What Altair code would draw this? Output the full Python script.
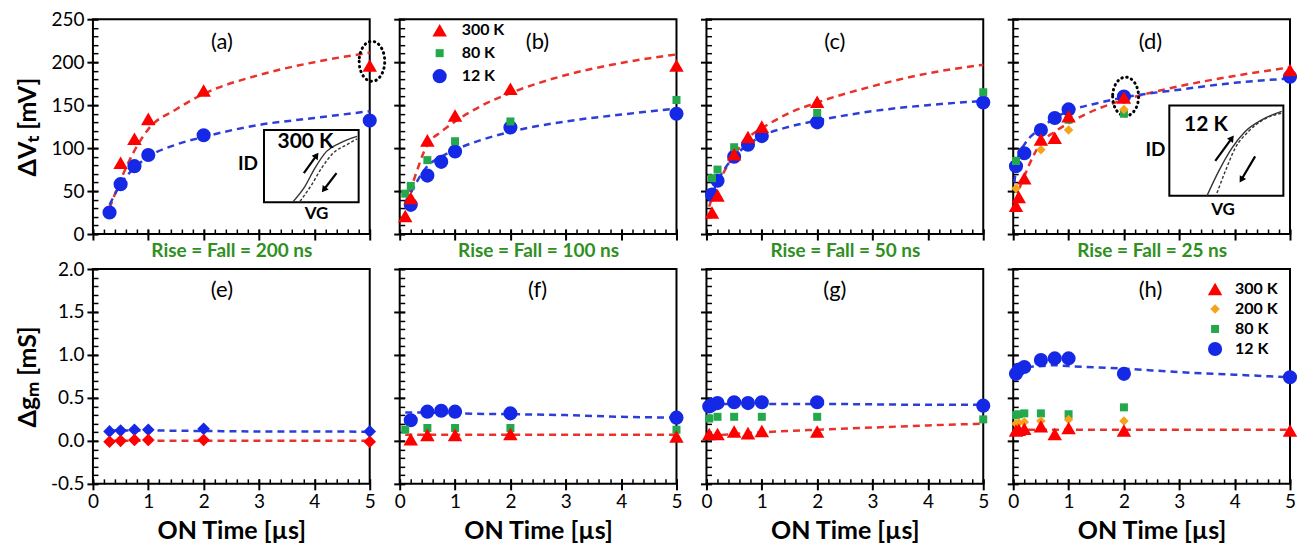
import altair as alt
import pandas as pd

# ---------------- series / labels ----------------
TEMPS = ["300 K", "200 K", "80 K", "12 K"]
POINT_COLORS = ["#ff0000", "#f5a31c", "#23a84c", "#1428e6"]
POINT_SHAPES = ["triangle-up", "diamond", "square", "circle"]
POINT_SIZES = [210, 90, 64, 200]
FIT_COLORS = {"300 K": "#e8322b", "12 K": "#2d3ed8"}
GREEN = "#2f8f1f"

RISE_FALL = ["Rise = Fall = 200 ns", "Rise = Fall = 100 ns",
             "Rise = Fall = 50 ns", "Rise = Fall = 25 ns"]
TAGS_TOP = ["(a)", "(b)", "(c)", "(d)"]
TAGS_BOTTOM = ["(e)", "(f)", "(g)", "(h)"]
TAG_X = [2.33, 2.49, 2.32, 2.48]
TAG_Y_TOP = 224
TAG_Y_BOTTOM = 1.76

X_MAJOR = [0, 1, 2, 3, 4, 5]
X_MINOR = [round(i * 0.2, 1) for i in range(26)]
VT_MAJOR = [0, 50, 100, 150, 200, 250]
VT_MINOR = [i * 10 for i in range(26)]
GM_MAJOR = [-0.5, 0.0, 0.5, 1.0, 1.5, 2.0]
GM_MINOR = [round(-0.5 + i * 0.1, 1) for i in range(26)]

# ---------------- (a) 200 ns, dVt ----------------
a_x_300 = [0.5, 0.75, 1, 2, 5]
a_y_300 = [83, 111, 134, 167, 196]
a_x_12 = [0.3, 0.5, 0.75, 1, 2, 5]
a_y_12 = [25, 58, 79, 92, 115, 132]
a_fit_x = [0.3, 0.5, 0.75, 1, 1.5, 2, 3, 4, 5]
a_fit_300 = [30, 63, 97, 122, 145, 163, 185, 200, 211]
a_fit_12 = [34, 58, 77, 90, 104, 113, 127, 135, 143]

# ---------------- (b) 100 ns ----------------
b_x_300 = [0.1, 0.2, 0.5, 1, 2, 5]
b_y_300 = [21, 42, 109, 138, 169, 196]
b_x_80 = [0.1, 0.2, 0.5, 1, 2, 5]
b_y_80 = [47, 56, 86, 108, 131, 156]
b_x_12 = [0.2, 0.5, 0.75, 1, 2, 5]
b_y_12 = [34, 68, 84, 96, 124, 140]
b_fit_x = [0.1, 0.2, 0.5, 0.75, 1, 1.5, 2, 3, 4, 5]
b_fit_300 = [36, 53, 104, 119, 131, 150, 164, 185, 199, 209]
b_fit_12 = [36, 48, 79, 90, 98, 110, 119, 131, 139, 146]

# ---------------- (c) 50 ns ----------------
c_x_300 = [0.1, 0.2, 0.5, 0.75, 1, 2]
c_y_300 = [25, 45, 93, 113, 125, 154]
c_x_80 = [0.1, 0.2, 0.5, 2, 5]
c_y_80 = [65, 75, 101, 141, 165]
c_x_12 = [0.1, 0.2, 0.5, 0.75, 1, 2, 5]
c_y_12 = [46, 62, 90, 104, 114, 130, 153]
c_fit_x = [0.05, 0.1, 0.2, 0.5, 0.75, 1, 1.5, 2, 3, 4, 5]
c_fit_300 = [32, 42, 57, 92, 112, 123, 141, 153, 172, 187, 197]
c_fit_12 = [38, 46, 61, 90, 104, 114, 125, 132, 143, 150, 155]

# ---------------- (d) 25 ns ----------------
d_x_300 = [0.05, 0.1, 0.2, 0.5, 0.75, 1, 2, 5]
d_y_300 = [33, 43, 65, 110, 112, 137, 159, 191]
d_x_200 = [0.05, 0.5, 1, 2]
d_y_200 = [53, 98, 121, 145]
d_x_80 = [0.05, 1, 2]
d_y_80 = [85, 133, 140]
d_x_12 = [0.05, 0.2, 0.5, 0.75, 1, 2, 5]
d_y_12 = [79, 94, 121, 135, 145, 160, 183]
d_fit_x = [0.02, 0.05, 0.1, 0.2, 0.5, 0.75, 1, 1.5, 2, 3, 4, 5]
d_fit_300 = [26, 36, 50, 67, 106, 119, 129, 145, 156, 172, 184, 194]
d_fit_12 = [60, 75, 92, 104, 123, 135, 143, 152, 159, 168, 176, 181]

# ---------------- (e) 200 ns, dgm ----------------
e_x = [0.3, 0.5, 0.75, 1, 2, 5]
e_y_300 = [-0.01, 0.0, 0.01, 0.01, 0.01, -0.01]
e_y_12 = [0.11, 0.12, 0.13, 0.13, 0.14, 0.11]
e_fit_x = [0.3, 1, 2, 3, 4, 5]
e_fit_300 = [0.0, 0.0, 0.0, 0.0, 0.0, 0.0]
e_fit_12 = [0.12, 0.12, 0.115, 0.11, 0.11, 0.105]

# ---------------- (f) 100 ns ----------------
f_x_300 = [0.2, 0.5, 1, 2, 5]
f_y_300 = [0.02, 0.07, 0.07, 0.08, 0.05]
f_x_80 = [0.1, 0.5, 1, 2, 5]
f_y_80 = [0.13, 0.15, 0.15, 0.15, 0.13]
f_x_12 = [0.2, 0.5, 0.75, 1, 2, 5]
f_y_12 = [0.24, 0.34, 0.35, 0.34, 0.32, 0.27]
f_fit_x = [0.1, 0.5, 1, 2, 3, 4, 5]
f_fit_300 = [0.07, 0.07, 0.07, 0.07, 0.07, 0.07, 0.07]
f_fit_12 = [0.33, 0.33, 0.32, 0.31, 0.30, 0.28, 0.27]

# ---------------- (g) 50 ns ----------------
g_x_300 = [0.05, 0.2, 0.5, 0.75, 1, 2]
g_y_300 = [0.08, 0.08, 0.11, 0.09, 0.115, 0.11]
g_x_80 = [0.05, 0.2, 0.5, 1, 2, 5]
g_y_80 = [0.26, 0.28, 0.28, 0.28, 0.28, 0.25]
g_x_12 = [0.05, 0.1, 0.2, 0.5, 0.75, 1, 2, 5]
g_y_12 = [0.40, 0.42, 0.44, 0.45, 0.44, 0.45, 0.45, 0.41]
g_fit_x = [0.05, 0.5, 1, 2, 3, 4, 5]
g_fit_300 = [0.06, 0.08, 0.10, 0.13, 0.155, 0.18, 0.20]
g_fit_12 = [0.43, 0.43, 0.43, 0.43, 0.425, 0.42, 0.42]

# ---------------- (h) 25 ns ----------------
h_x_300 = [0.05, 0.1, 0.2, 0.5, 0.75, 1, 2, 5]
h_y_300 = [0.12, 0.13, 0.14, 0.17, 0.08, 0.15, 0.12, 0.12]
h_x_200 = [0.05, 0.1, 0.2, 0.5, 1, 2]
h_y_200 = [0.20, 0.21, 0.22, 0.23, 0.25, 0.23]
h_x_80 = [0.05, 0.1, 0.2, 0.5, 1, 2]
h_y_80 = [0.30, 0.31, 0.32, 0.32, 0.31, 0.39]
h_x_12 = [0.05, 0.1, 0.2, 0.5, 0.75, 1, 2, 5]
h_y_12 = [0.78, 0.83, 0.86, 0.94, 0.96, 0.96, 0.78, 0.74]
h_fit_x = [0.05, 0.2, 0.5, 0.75, 1, 2, 3, 4, 5]
h_fit_300 = [0.13, 0.13, 0.13, 0.13, 0.13, 0.13, 0.13, 0.13, 0.13]
h_fit_12 = [0.80, 0.85, 0.87, 0.88, 0.87, 0.84, 0.80, 0.77, 0.74]

# ---------------- insets (data coordinates of panels a and d) ----------------
a_inset_box = [3.09, 4.80, 37, 121]
a_inset_solid_x = [3.62, 3.83, 4.01, 4.22, 4.46, 4.77]
a_inset_solid_y = [38, 55.5, 76.7, 96.2, 105.8, 113.6]
a_inset_dash_x = [3.74, 3.95, 4.13, 4.34, 4.58, 4.77]
a_inset_dash_y = [38, 57.3, 76.7, 94.2, 103.8, 110.8]
a_arrow_x = [3.81, 4.40]
a_arrow_y = [70.9, 70.9]
a_arrow_x2 = [4.04, 4.17]
a_arrow_y2 = [91.5, 51.5]
a_arrow_angle = [36, 217]
a_inset_text = ["300 K", "ID", "VG"]
a_inset_text_x = [3.84, 2.80, 4.04]
a_inset_text_y = [107, 81, 23]

d_inset_box = [2.82, 4.88, 44.5, 149.7]
d_inset_solid_x = [3.50, 3.71, 3.95, 4.19, 4.49, 4.85]
d_inset_solid_y = [44.5, 72.9, 100, 119.4, 132.9, 142.7]
d_inset_dash_x = [3.68, 3.83, 4.01, 4.25, 4.55, 4.85]
d_inset_dash_y = [47.7, 72.9, 100, 119.4, 134.1, 140.7]
d_arrow_x = [3.65, 4.37]
d_arrow_y = [85.2, 90.3]
d_arrow_x2 = [3.95, 4.12]
d_arrow_y2 = [111.6, 63.1]
d_arrow_angle = [36, 211]
d_inset_text = ["12 K", "ID", "VG"]
d_inset_text_x = [3.48, 2.57, 3.79]
d_inset_text_y = [127, 98, 28]

# dotted ellipses: centre x, centre y
a_ellipse = [5.04, 201]
d_ellipse = [2.03, 160]

FONT = "Lato"
W, H = 277, 215


def points_df(series):
    rows = []
    for t in ["12 K", "80 K", "200 K", "300 K"]:
        for temp, xs, ys in series:
            if temp == t:
                rows += [{"x": x, "y": y, "T": temp} for x, y in zip(xs, ys)]
    return pd.DataFrame(rows)


def make_axes(row, col):
    top = row == 0
    if top:
        xmaj = alt.Axis(orient="bottom", values=X_MAJOR, labels=False, title=RISE_FALL[col],
                        titleColor=GREEN, titleFontWeight="bold", titleFontSize=19,
                        titlePadding=0, tickSize=11, offset=-5, domain=False, grid=False,
                        tickWidth=2)
    else:
        xmaj = alt.Axis(orient="bottom", values=X_MAJOR, format="d", title="ON Time [µs]",
                        titleFontWeight="bold", titleFontSize=25, titlePadding=7,
                        labelFontSize=19, labelPadding=3, labelFlush=False,
                        tickSize=11, offset=-5, domain=False, grid=False, tickWidth=2)
    xmin = alt.Axis(orient="bottom", values=X_MINOR, labels=False, title=None, tickSize=5,
                    offset=-5, domain=False, grid=False, tickWidth=1.5)
    yvals = VT_MAJOR if top else GM_MAJOR
    ymin_vals = VT_MINOR if top else GM_MINOR
    if col == 0:
        ytitle = "ΔVₜ [mV]" if top else "Δgₘ [mS]"
        if top:
            yfmt = dict(format="d")
        else:
            yfmt = dict(labelExpr="datum.value < 0 ? '-' + format(-datum.value, '.1f') : format(datum.value, '.1f')")
        ymaj = alt.Axis(orient="left", values=yvals, title=ytitle, titleFontWeight="bold",
                        titleFontSize=25, titlePadding=10, labelFontSize=19, labelPadding=3,
                        labelFlush=False, tickSize=11, offset=-5, domain=False, grid=False,
                        tickWidth=2, **yfmt)
    else:
        ymaj = alt.Axis(orient="left", values=yvals, labels=False, title=None, tickSize=11,
                        offset=-5, domain=False, grid=False, tickWidth=2)
    ymin = alt.Axis(orient="left", values=ymin_vals, labels=False, title=None, tickSize=5,
                    offset=-5, domain=False, grid=False, tickWidth=1.5)
    return xmaj, xmin, ymaj, ymin


def inset_layers(xs, ys, box, sx, sy, dx, dy, ax, ay, ax2, ay2, ang, txt, tx, ty, big):
    X = lambda f: alt.X(f, scale=xs, axis=None)
    Y = lambda f: alt.Y(f, scale=ys, axis=None)
    layers = []
    bdf = pd.DataFrame({"x": [box[0]], "x2": [box[1]], "y": [box[2]], "y2": [box[3]]})
    layers.append(alt.Chart(bdf).mark_rect(fill="white", stroke="black", strokeWidth=2).encode(
        x=X("x:Q"), x2="x2:Q", y=Y("y:Q"), y2="y2:Q"))
    layers.append(alt.Chart(pd.DataFrame({"x": sx, "y": sy})).mark_line(
        color="#333333", strokeWidth=1.4, interpolate="monotone").encode(x=X("x:Q"), y=Y("y:Q")))
    layers.append(alt.Chart(pd.DataFrame({"x": dx, "y": dy})).mark_line(
        color="#333333", strokeWidth=1.4, strokeDash=[3, 2], interpolate="monotone").encode(
        x=X("x:Q"), y=Y("y:Q")))
    adf = pd.DataFrame({"x": ax, "y": ay, "x2": ax2, "y2": ay2, "ang": ang})
    layers.append(alt.Chart(adf).mark_rule(color="black", strokeWidth=2.2).encode(
        x=X("x:Q"), y=Y("y:Q"), x2="x2:Q", y2="y2:Q"))
    layers.append(alt.Chart(adf).mark_point(shape="triangle-up", filled=True, color="black",
                                            opacity=1, size=55).encode(
        x=X("x2:Q"), y=Y("y2:Q"), angle=alt.Angle("ang:Q", scale=None)))
    sizes = [big, 19, 17]
    for t, x, y, s in zip(txt, tx, ty, sizes):
        layers.append(alt.Chart(pd.DataFrame({"x": [x], "y": [y], "t": [t]})).mark_text(
            font=FONT, fontWeight="bold", fontSize=s, color="black").encode(
            x=X("x:Q"), y=Y("y:Q"), text="t:N"))
    return layers


def ellipse_layer(xs, ys, centre, size, rx):
    path = f"M -{rx} 0 A {rx} 1 0 1 0 {rx} 0 A {rx} 1 0 1 0 -{rx} 0 Z"
    return alt.Chart(pd.DataFrame({"x": [centre[0]], "y": [centre[1]]})).mark_point(
        shape=path, size=size, filled=False, stroke="black", strokeWidth=3,
        strokeDash=[0.5, 4.5], strokeCap="round", opacity=1).encode(
        x=alt.X("x:Q", scale=xs, axis=None), y=alt.Y("y:Q", scale=ys, axis=None))


def panel(row, col, series, fits, shapes=None, sizes=None, legend=None, extras=None):
    top = row == 0
    xs = alt.Scale(domain=[0, 5], nice=False, zero=False)
    ys = alt.Scale(domain=[0, 250] if top else [-0.5, 2.0], nice=False, zero=False)
    xmaj, xmin, ymaj, ymin = make_axes(row, col)

    temps = [t for t in TEMPS if any(s[0] == t for s in series)]
    idx = [TEMPS.index(t) for t in temps]
    colors = [POINT_COLORS[i] for i in idx]
    shp = shapes if shapes else [POINT_SHAPES[i] for i in idx]
    siz = sizes if sizes else [POINT_SIZES[i] for i in idx]

    layers = []
    for i, (temp, fx, fy) in enumerate(fits):
        layers.append(alt.Chart(pd.DataFrame({"x": fx, "y": fy})).mark_line(
            color=FIT_COLORS[temp], strokeDash=[7, 5], strokeWidth=2.5,
            interpolate="monotone").encode(
            x=alt.X("x:Q", scale=xs, axis=xmin if i == 0 else None),
            y=alt.Y("y:Q", scale=ys, axis=ymin if i == 0 else None)))
    if extras:
        layers += extras(xs, ys)

    pts = alt.Chart(points_df(series)).mark_point(filled=True, opacity=1, strokeWidth=0).encode(
        x=alt.X("x:Q", scale=xs, axis=xmaj),
        y=alt.Y("y:Q", scale=ys, axis=ymaj),
        color=alt.Color("T:N", scale=alt.Scale(domain=temps, range=colors), legend=legend),
        shape=alt.Shape("T:N", scale=alt.Scale(domain=temps, range=shp), legend=legend),
        size=alt.Size("T:N", scale=alt.Scale(type="ordinal", domain=temps, range=siz),
                      legend=legend),
    )
    layers.append(pts)

    tag = (TAGS_TOP if top else TAGS_BOTTOM)[col]
    tdf = pd.DataFrame({"x": [TAG_X[col]], "y": [TAG_Y_TOP if top else TAG_Y_BOTTOM], "t": [tag]})
    layers.append(alt.Chart(tdf).mark_text(font=FONT, fontSize=22, color="black").encode(
        x=alt.X("x:Q", scale=xs, axis=None), y=alt.Y("y:Q", scale=ys, axis=None), text="t:N"))

    return alt.layer(*layers).resolve_axis(x="independent", y="independent").properties(
        width=W, height=H)


legend_b = alt.Legend(orient="none", legendX=32, legendY=3, direction="vertical", title=None,
                      labelFont=FONT, labelFontSize=16, labelFontWeight="bold",
                      labelColor="black", rowPadding=7, padding=0, labelOffset=14,
                      symbolStrokeWidth=0)
legend_h = alt.Legend(orient="none", legendX=194, legendY=12, direction="vertical", title=None,
                      labelFont=FONT, labelFontSize=16, labelFontWeight="bold",
                      labelColor="black", rowPadding=4, padding=0, labelOffset=12,
                      symbolStrokeWidth=0)


def extras_a(xs, ys):
    return inset_layers(xs, ys, a_inset_box, a_inset_solid_x, a_inset_solid_y,
                        a_inset_dash_x, a_inset_dash_y, a_arrow_x, a_arrow_y,
                        a_arrow_x2, a_arrow_y2, a_arrow_angle, a_inset_text,
                        a_inset_text_x, a_inset_text_y, 21) + [
        ellipse_layer(xs, ys, a_ellipse, 1600, 0.64)]


def extras_d(xs, ys):
    return inset_layers(xs, ys, d_inset_box, d_inset_solid_x, d_inset_solid_y,
                        d_inset_dash_x, d_inset_dash_y, d_arrow_x, d_arrow_y,
                        d_arrow_x2, d_arrow_y2, d_arrow_angle, d_inset_text,
                        d_inset_text_x, d_inset_text_y, 21) + [
        ellipse_layer(xs, ys, d_ellipse, 1500, 0.67)]


pa = panel(0, 0, [("300 K", a_x_300, a_y_300), ("12 K", a_x_12, a_y_12)],
           [("300 K", a_fit_x, a_fit_300), ("12 K", a_fit_x, a_fit_12)], extras=extras_a)
pb = panel(0, 1, [("300 K", b_x_300, b_y_300), ("80 K", b_x_80, b_y_80), ("12 K", b_x_12, b_y_12)],
           [("300 K", b_fit_x, b_fit_300), ("12 K", b_fit_x, b_fit_12)], legend=legend_b)
pc = panel(0, 2, [("300 K", c_x_300, c_y_300), ("80 K", c_x_80, c_y_80), ("12 K", c_x_12, c_y_12)],
           [("300 K", c_fit_x, c_fit_300), ("12 K", c_fit_x, c_fit_12)])
pd_ = panel(0, 3, [("300 K", d_x_300, d_y_300), ("200 K", d_x_200, d_y_200),
                   ("80 K", d_x_80, d_y_80), ("12 K", d_x_12, d_y_12)],
            [("300 K", d_fit_x, d_fit_300), ("12 K", d_fit_x, d_fit_12)], extras=extras_d)
pe = panel(1, 0, [("300 K", e_x, e_y_300), ("12 K", e_x, e_y_12)],
           [("300 K", e_fit_x, e_fit_300), ("12 K", e_fit_x, e_fit_12)],
           shapes=["diamond", "diamond"], sizes=[160, 160])
pf = panel(1, 1, [("300 K", f_x_300, f_y_300), ("80 K", f_x_80, f_y_80), ("12 K", f_x_12, f_y_12)],
           [("300 K", f_fit_x, f_fit_300), ("12 K", f_fit_x, f_fit_12)])
pg = panel(1, 2, [("300 K", g_x_300, g_y_300), ("80 K", g_x_80, g_y_80), ("12 K", g_x_12, g_y_12)],
           [("300 K", g_fit_x, g_fit_300), ("12 K", g_fit_x, g_fit_12)])
ph = panel(1, 3, [("300 K", h_x_300, h_y_300), ("200 K", h_x_200, h_y_200),
                  ("80 K", h_x_80, h_y_80), ("12 K", h_x_12, h_y_12)],
           [("300 K", h_fit_x, h_fit_300), ("12 K", h_fit_x, h_fit_12)], legend=legend_h)

chart = alt.concat(pa, pb, pc, pd_, pe, pf, pg, ph, columns=4,
                   spacing={"row": 35, "column": 30}, bounds="flush").resolve_scale(
    x="independent", y="independent", color="independent", shape="independent",
    size="independent").resolve_legend(color="independent", shape="independent",
                                       size="independent").properties(
    padding={"left": 6, "top": 1, "right": 2, "bottom": 0}
).configure_view(stroke="black", strokeWidth=2).configure_axis(
    labelFont=FONT, titleFont=FONT, labelColor="black", tickColor="black", titleColor="black"
).configure_legend(labelFont=FONT)

chart.save("out.html", embed_options={"renderer": "svg", "actions": False})
